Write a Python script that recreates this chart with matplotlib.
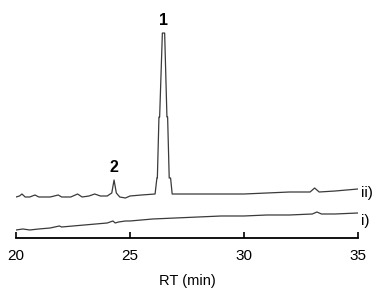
import matplotlib
matplotlib.use("Agg")
import matplotlib.pyplot as plt

plt.rcParams['font.family'] = ['Liberation Sans', 'DejaVu Sans']

# trace ii) - sample
rt_ii = [20.0, 20.15, 20.26, 20.4, 20.6, 20.83, 21.0, 21.5, 21.85, 22.0, 22.4, 22.7,
         22.9, 23.2, 23.45, 23.7, 24.0, 24.2, 24.3, 24.4, 24.55, 24.8, 25.0, 25.5,
         26.1, 26.18, 26.2, 26.27, 26.3, 26.42, 26.52, 26.62, 26.65, 26.72, 26.78,
         26.85, 27.5, 28.0, 29.0, 30.0, 31.0, 32.0, 32.9, 33.1, 33.3, 34.0, 35.0]
sig_ii = [41, 42, 44, 41, 41, 43, 41, 41, 43, 41, 41, 44,
          41, 42, 44, 42, 42, 45, 58, 45, 41, 40, 42, 43,
          44, 60, 60, 121, 121, 205, 205, 121, 121, 60, 60,
          44, 44, 44, 44, 44, 45, 46, 46, 50, 46, 47, 49]

# trace i) - control
rt_i = [20.0, 20.3, 20.6, 21.0, 21.5, 21.9, 22.0, 22.5, 23.0, 23.5, 24.0, 24.25,
        24.35, 24.5, 24.8, 25.0, 26.0, 27.0, 28.0, 29.0, 30.0, 31.0, 32.0, 33.0,
        33.2, 33.4, 34.0, 35.0]
sig_i = [8, 9, 8, 9, 10, 12, 11, 12, 13, 14, 15, 17,
         15, 16, 17, 17, 19, 20, 21, 22, 22, 23, 23, 24,
         26, 24, 24, 25]

peak_labels = ['1', '2']
peak_rt = [26.45, 24.3]
peak_top = [205, 58]

fig = plt.figure(figsize=(3.82, 2.96), dpi=100)
ax = fig.add_axes([0.042, 0.196, 0.895, 0.743])

ax.plot(rt_ii, sig_ii, color='#3a3a3a', lw=0.9)
ax.plot(rt_i, sig_i, color='#3a3a3a', lw=0.9)

for lab, x, y in zip(peak_labels, peak_rt, peak_top):
    ax.text(x, y + 5, lab, ha='center', va='bottom', fontsize=11.5,
            fontweight='bold', clip_on=False)

ax.text(35.15, 45, 'ii)', ha='left', va='center', fontsize=11, clip_on=False)
ax.text(35.15, 17, 'i)', ha='left', va='center', fontsize=11, clip_on=False)

ax.set_xlim(20, 35)
ax.set_ylim(0, 220)
ax.set_xticks([20, 25, 30, 35])
ax.set_yticks([])
for s in ['top', 'right', 'left']:
    ax.spines[s].set_visible(False)
ax.spines['bottom'].set_linewidth(1.3)
ax.tick_params(axis='x', direction='in', length=4, width=1.2, labelsize=11, pad=8)
ax.set_xlabel('RT (min)', fontsize=10.5, labelpad=8)

fig.savefig('out.png', dpi=100)
